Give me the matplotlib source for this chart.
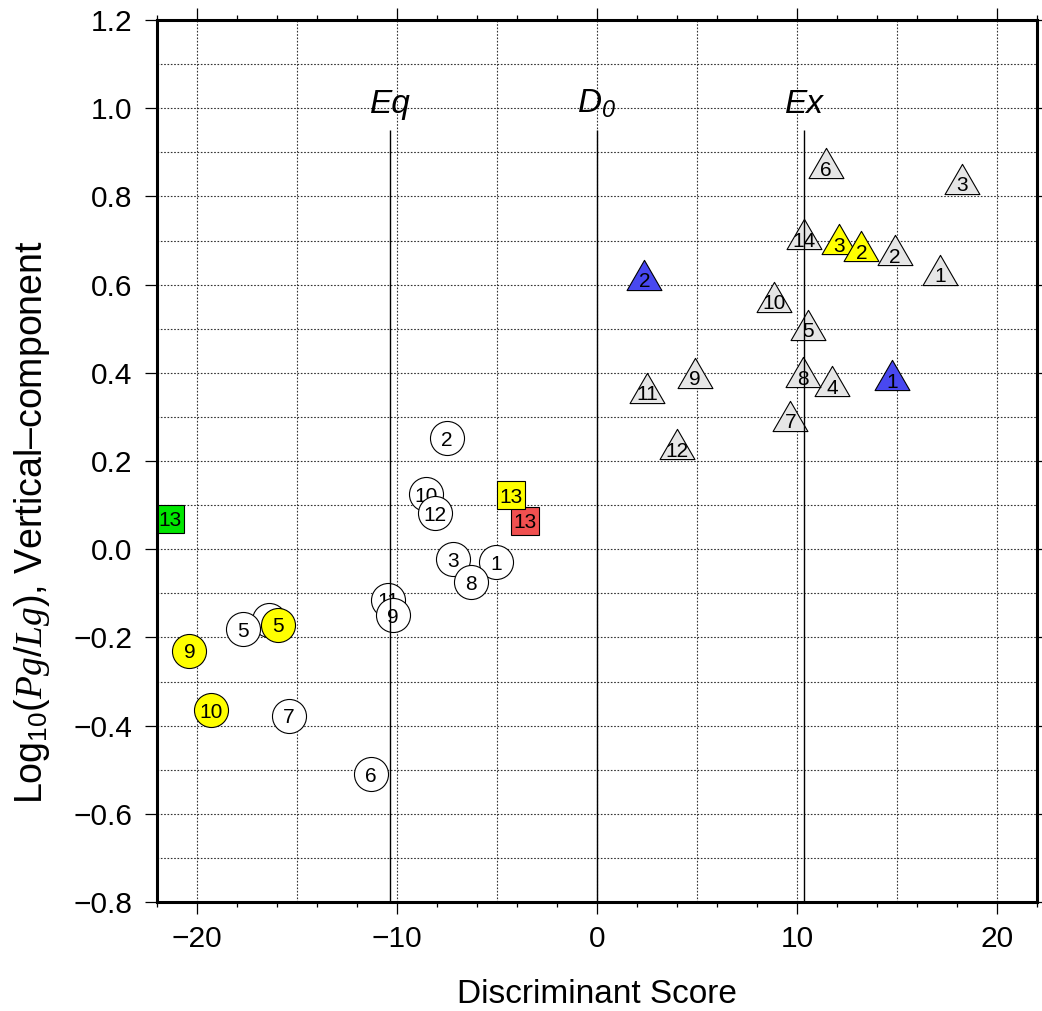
import numpy as np
import matplotlib
matplotlib.use("Agg")
import matplotlib.pyplot as plt
from matplotlib.path import Path
from matplotlib.ticker import MultipleLocator

plt.rcParams["font.family"] = ["Liberation Sans", "DejaVu Sans"]
plt.rcParams["mathtext.fontset"] = "custom"
plt.rcParams["mathtext.rm"] = "Liberation Sans"
plt.rcParams["mathtext.it"] = "Liberation Serif:italic"
plt.rcParams["mathtext.sf"] = "Liberation Sans:italic"

# ---- events: discriminant score (x) and log10(Pg/Lg) vertical component (y) ----
# earthquakes (open circles), in drawing order; one circle sits under yellow 5
eq_labels = ["1", "2", "3", "", "5", "6", "7", "8", "10", "11", "9", "12"]
eq_x = [-5.05, -7.50, -7.22, -16.42, -17.68, -11.30, -15.42, -6.28, -8.55, -10.43, -10.22, -8.08]
eq_y = [-0.029, 0.252, -0.023, -0.161, -0.181, -0.510, -0.378, -0.075, 0.125, -0.115, -0.150, 0.081]

# earthquakes highlighted in yellow
eqh_labels = ["5", "9", "10"]
eqh_x = [-15.97, -20.38, -19.30]
eqh_y = [-0.171, -0.230, -0.365]

# explosions (grey triangles)
ex_labels = ["1", "2", "3", "4", "5", "6", "7", "8", "9", "10", "11", "12", "14"]
ex_x = [17.14, 14.91, 18.23, 11.76, 10.57, 11.43, 9.66, 10.30, 4.89, 8.83, 2.49, 4.01, 10.33]
ex_y = [0.622, 0.667, 0.829, 0.370, 0.498, 0.864, 0.291, 0.390, 0.389, 0.561, 0.355, 0.227, 0.703]

# explosions highlighted in yellow and blue
exy_labels = ["3", "2"]
exy_x = [12.08, 13.22]
exy_y = [0.691, 0.676]
exb_labels = ["1", "2"]
exb_x = [14.74, 2.37]
exb_y = [0.383, 0.611]

# event 13 (squares): green, red, yellow
sq_labels = ["13", "13", "13"]
sq_x = [-21.37, -3.60, -4.28]
sq_y = [0.069, 0.064, 0.122]
sq_colors = ["#00e600", "#f05050", "#ffff00"]

# group boundaries
line_x = [-10.35, 0.0, 10.35]
line_top = 0.95

# triangle with its centroid at the origin
tri = Path([(0, 1), (-0.8660, -0.5), (0.8660, -0.5), (0, 1)],
           [Path.MOVETO, Path.LINETO, Path.LINETO, Path.CLOSEPOLY])

fig = plt.figure(figsize=(10.42, 10.11), dpi=100)
ax = fig.add_axes([0.1507, 0.1078, 0.8445, 0.8724])
ax.set_xlim(-22, 22)
ax.set_ylim(-0.8, 1.2)

# dotted grid
for gx in np.arange(-20, 21, 5):
    ax.axvline(gx, color="#333333", lw=0.8, ls=(0, (1.5, 1.5)), zorder=1)
for gy in np.arange(-0.7, 1.15, 0.1):
    ax.axhline(gy, color="#333333", lw=0.8, ls=(0, (1.5, 1.5)), zorder=1)

z = [5]


def labelled(xs, ys, labels, marker, ms, fcs):
    if isinstance(fcs, str):
        fcs = [fcs] * len(xs)
    for xv, yv, lb, fc in zip(xs, ys, labels, fcs):
        ax.plot([xv], [yv], linestyle="none", marker=marker, ms=ms, mfc=fc,
                mec="black", mew=0.8, zorder=z[0])
        if lb:
            ax.text(xv, yv, lb, ha="center", va="center_baseline", fontsize=15,
                    color="black", zorder=z[0] + 0.5)
        z[0] += 1


labelled(eq_x, eq_y, eq_labels, "o", 24.5, "white")
labelled(eqh_x, eqh_y, eqh_labels, "o", 24.5, "#ffff00")
labelled(sq_x, sq_y, sq_labels, "s", 19.5, sq_colors)
labelled(ex_x, ex_y, ex_labels, tri, 29, "#e6e6e6")
labelled(exy_x, exy_y, exy_labels, tri, 29, "#ffff00")
labelled(exb_x, exb_y, exb_labels, tri, 29, "#4848f0")

# boundary lines on top of the symbols
ax.vlines(line_x, -0.8, line_top, color="black", lw=1.0, zorder=200)
ax.text(line_x[0], 0.99, "Eq", ha="center", va="baseline", fontsize=24,
        style="italic", zorder=200)
ax.text(line_x[1], 0.99, r"$\mathsf{D_{0}}$", ha="center", va="baseline",
        fontsize=24, zorder=200)
ax.text(line_x[2], 0.99, "Ex", ha="center", va="baseline", fontsize=24,
        style="italic", zorder=200)

# axes frame and ticks
for sp in ax.spines.values():
    sp.set_linewidth(2.2)
    sp.set_zorder(300)
ax.xaxis.set_major_locator(MultipleLocator(10))
ax.xaxis.set_minor_locator(MultipleLocator(2))
ax.yaxis.set_major_locator(MultipleLocator(0.2))
ax.tick_params(which="both", direction="out", top=True, right=True,
               labeltop=False, labelright=False, width=0.9)
ax.tick_params(which="major", length=8.5, labelsize=21.5)
ax.tick_params(axis="x", which="major", pad=8)
ax.tick_params(axis="y", which="major", pad=9)
ax.tick_params(which="minor", length=3.6)

ax.set_xlabel("Discriminant Score", fontsize=24, va="baseline")
ax.xaxis.set_label_coords(0.5, -0.1142)
ax.set_ylabel(r"Log$_{10}$($Pg/Lg$), Vertical–component", fontsize=27,
              ha="center", va="center")
ax.yaxis.set_label_coords(-0.142, 0.431)

fig.savefig("out.png", dpi=100)
